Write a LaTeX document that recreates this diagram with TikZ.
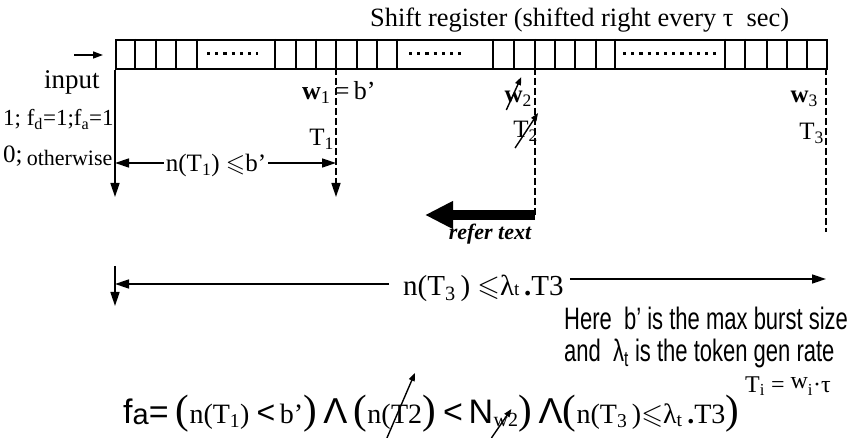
\documentclass[tikz,border=0pt]{standalone}
\usepackage{amsmath, amssymb}
\usepackage{xcolor}
\usepackage{fontspec}
\setmainfont{Liberation Serif}
\newfontfamily\notefont[FakeStretch=0.71]{Liberation Sans}
\newfontfamily\fmlsans{Liberation Sans}
\usetikzlibrary{arrows.meta, positioning}
\newcommand{\lowidx}[1]{\textsubscript{#1}}
\newcommand{\fs}[1]{\fontsize{#1}{#1}\selectfont}

\begin{document}
\begin{tikzpicture}[x=1pt, y=-1pt,
    lbl/.style={inner sep=0pt, font=\fs{25}},
    tap/.style={line width=1.6pt, dash pattern=on 7pt off 3pt},
    tip/.style={-{Triangle[length=14pt, width=9pt]}},
    strike/.style={line width=1.4pt, -{Triangle[length=8pt, width=6pt]}},
    fml/.style={inner sep=0pt, anchor=base west, font=\fs{28}}]
    \useasboundingbox (0,0) rectangle (854,438);

    % Shift register
    \node[draw, line width=1.8pt, minimum width=711pt, minimum height=29pt, inner sep=0pt, anchor=north west] (reg) at (115,39) {};
    \foreach \cx in {135,156,176,197,275,296,316,336,357,377,397,493,514,535,555,575,596,615,725,745,767,787,807}
        \draw[line width=1.3pt] (\cx,39) -- (\cx,68);
    \foreach \dl/\dr in {207/258, 409/466, 623/721}
        \draw[line width=3pt, dash pattern=on 3.2pt off 5pt] (\dl,54) -- (\dr,54);
    \node[anchor=base west, inner sep=0pt, font=\fs{26.4}] (title) at (370,27) {Shift register (shifted right every τ\ \ sec)};

    % Input side
    \coordinate (feed) at (74,55);
    \draw[line width=1.5pt, -{Triangle[length=10pt, width=7pt]}, shorten >=12pt] (feed) -- (feed -| reg.west);
    \node[lbl, anchor=base west, font=\fs{27}] (inlbl) at (44,89) {input};
    \node[lbl, anchor=base west, font=\fs{23}] (flag1) at (3,126) {1;\ f\lowidx{d}=1;f\lowidx{a}=1};
    \node[lbl, anchor=base west, font=\fs{25}] (flag0) at (3,163) {0;\,{\fs{22}\raisebox{-3pt}{otherwise}}};

    % Taps
    \coordinate (t0) at (115,197);
    \coordinate (t1top) at (336,68);
    \coordinate (t1) at (336,197);
    \coordinate (t2top) at (535,68);
    \coordinate (t2) at (535,215);
    \coordinate (t3top) at (826,68);
    \coordinate (t3) at (826,232);
    \draw[line width=1.6pt, tip] (reg.south west) -- (t0);
    \draw[tap, tip] (t1top) -- (t1);
    \draw[tap] (t2top) -- (t2);
    \draw[tap] (t3top) -- (t3);

    \node[lbl, anchor=base west, font=\fs{26}] (w1lbl) at (302,100) {{\bfseries w}\lowidx{1}\,=\,b’};
    \node[lbl, anchor=base east] (T1lbl) at (334,146) {T\lowidx{1}};
    \node[lbl, anchor=base east] (w2lbl) at (532,103) {{\bfseries w}\lowidx{2}};
    \node[lbl, anchor=base east] (T2lbl) at (538,138) {T\lowidx{2}};
    \node[lbl, anchor=base east] (w3lbl) at (818,103) {{\bfseries w}\lowidx{3}};
    \node[lbl, anchor=base east] (T3lbl) at (824,140) {T\lowidx{3}};
    \draw[strike] ([shift={(2,7)}]w2lbl.base west) -- ([shift={(17,-26)}]w2lbl.base west);
    \draw[strike] ([shift={(2,10)}]T2lbl.base west) -- ([shift={(25,-25)}]T2lbl.base west);

    % n(T1) window
    \coordinate (b1l) at (115,163);
    \coordinate (b1r) at (336,163);
    \node[lbl, anchor=base] (nT1) at (216,172) {n(T\lowidx{1}) $\leqslant$b’};
    \draw[line width=1.4pt, tip, shorten <=2pt] (nT1.west |- b1l) -- (b1l);
    \draw[line width=1.4pt, tip, shorten <=2pt] (nT1.east |- b1r) -- (b1r);

    % refer text arrow
    \coordinate (refhead) at (425,215);
    \draw[line width=10pt, -{Triangle[length=28pt, width=26pt]}] (t2) -- (refhead);
    \node[anchor=base, inner sep=0pt, font=\bfseries\itshape\fs{22}] (reftxt) at (490,240) {refer text};

    % n(T3) window
    \coordinate (capt) at (115,266);
    \coordinate (capb) at (115,306);
    \draw[line width=1.6pt, tip] (capt) -- (capb);
    \node[lbl, anchor=base west, font=\fs{29}] (nT3) at (403,296) {n(T\lowidx{3}\,) $\leqslant$λ{\fs{19}t}\,\textbf{.}T3};
    \coordinate (ratel) at (115,284);
    \coordinate (rater) at (826,279);
    \draw[line width=1.6pt, tip, shorten <=14pt] (nT3.west |- ratel) -- (ratel);
    \draw[line width=1.6pt, tip, shorten <=6pt] (nT3.east |- rater) -- (rater);

    % Notes
    \node[anchor=base west, inner sep=0pt, font=\notefont\fs{31}] (note1) at (564,330) {Here\ \ b’ is the max burst size};
    \node[anchor=base west, inner sep=0pt, font=\notefont\fs{31}] (note2) at ([yshift=-31pt]note1.base west) {and\ \ λ\lowidx{t} is the token gen rate};

    % Admission condition
    \node[fml, font=\fmlsans\fs{34}] (fa) at (123,423) {f\raisebox{-1pt}{\fs{29}a}=};
    \node[fml] (c1) at (fa.base east) {\fs{41}\,(\fs{28}n(T\lowidx{1}) {\fmlsans\fs{32}<}\,b’\fs{41})};
    \node[fml, font=\fmlsans\fs{36}] (and1) at (c1.base east) {\,Λ\,};
    \node[fml] (c2a) at (and1.base east) {\fs{41}(\fs{28}n(};
    \node[fml] (c2t) at (c2a.base east) {T2};
    \node[fml] (c2b) at (c2t.base east) {\fs{41})\,{\fmlsans\fs{34}<\,N}};
    \node[fml] (c2w) at (c2b.base east) {\fs{20}\raisebox{-3pt}{w2}};
    \node[fml] (c2c) at (c2w.base east) {\fs{41})};
    \node[fml, font=\fmlsans\fs{36}] (and2) at (c2c.base east) {\,Λ};
    \node[fml] (c3) at (and2.base east) {\fs{41}(\fs{28}n(T\lowidx{3}\,)$\leqslant$λ\lowidx{t}\,\textbf{.}T3\fs{41})};
    \draw[strike] ([shift={(-4,15)}]c2t.base west) -- ([shift={(24,-50)}]c2t.base west);
    \draw[strike] ([shift={(-2,15)}]c2w.base west) -- ([shift={(18,-14)}]c2w.base west);

    \node[anchor=base west, inner sep=0pt, font=\fs{24}] (tidef) at (745,392) {T\lowidx{i} = \raisebox{4pt}{w}\lowidx{i}·τ};
\end{tikzpicture}
\end{document}
